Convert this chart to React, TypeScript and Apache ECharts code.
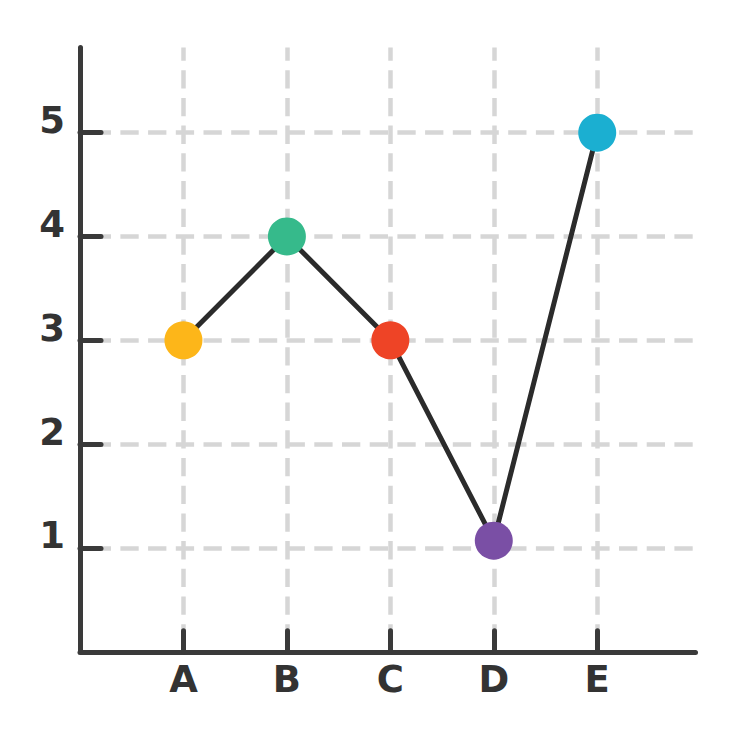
import React, { useEffect, useRef } from "react";
import * as echarts from "echarts";

const categories = ["A", "B", "C", "D", "E"];
const values = [3, 4, 3, 1.07, 5];
const pointColors = ["#FDB619", "#36BA8B", "#EE4426", "#7A4FA5", "#1BAFD1"];
const xTicks = [1, 2, 3, 4, 5];
const yTicks = [1, 2, 3, 4, 5];

const AXIS = "#3a3a3a";
const GRID = "#d6d6d6";
const FONT = "'DejaVu Sans', sans-serif";

export default function App() {
  const ref = useRef<HTMLDivElement>(null);
  useEffect(() => {
    document.body.style.margin = "0";
    const chart = echarts.init(ref.current!, null, { renderer: "svg" });
    const axisLine = { show: true, lineStyle: { color: AXIS, width: 5, cap: "round" } };
    const axisTick = (custom: number[]) => ({
      show: true,
      inside: true,
      length: 21,
      customValues: custom,
      lineStyle: { color: AXIS, width: 5, cap: "round" },
    });
    const labelStyle = { color: "#333333", fontFamily: FONT, fontWeight: "bold", fontSize: 37 };
    chart.setOption({
      animation: false,
      backgroundColor: "#ffffff",
      grid: { left: 80, right: 44.5, top: 47.5, bottom: 88.25, outerBoundsMode: "none" },
      xAxis: {
        type: "value",
        min: 0,
        max: 5.95,
        interval: 1,
        axisLine,
        axisTick: axisTick(xTicks),
        axisLabel: {
          ...labelStyle,
          customValues: xTicks,
          margin: 9,
          formatter: (v: number) => categories[Math.round(v) - 1] ?? "",
        },
        splitLine: { show: true, lineStyle: { color: GRID, width: 4.5, type: [18.3, 9.4], dashOffset: 4.5 } },
      },
      yAxis: {
        type: "value",
        min: 0,
        max: 5.82,
        interval: 1,
        axisLine,
        axisTick: axisTick(yTicks),
        axisLabel: {
          ...labelStyle,
          customValues: yTicks,
          margin: 15,
          verticalAlign: "bottom",
          lineHeight: 24,
          formatter: (v: number) => String(v),
        },
        splitLine: { show: true, lineStyle: { color: GRID, width: 4.5, type: [18.3, 9.4], dashOffset: 15.4 } },
      },
      series: [
        {
          type: "line",
          data: values.map((v, i) => ({
            value: [xTicks[i], v],
            itemStyle: { color: pointColors[i] },
          })),
          symbol: "circle",
          symbolSize: 38,
          lineStyle: { color: "#2b2b2b", width: 5 },
          z: 3,
        },
      ],
    });
    return () => chart.dispose();
  }, []);
  return <div ref={ref} style={{ width: 740, height: 740 }} />;
}
